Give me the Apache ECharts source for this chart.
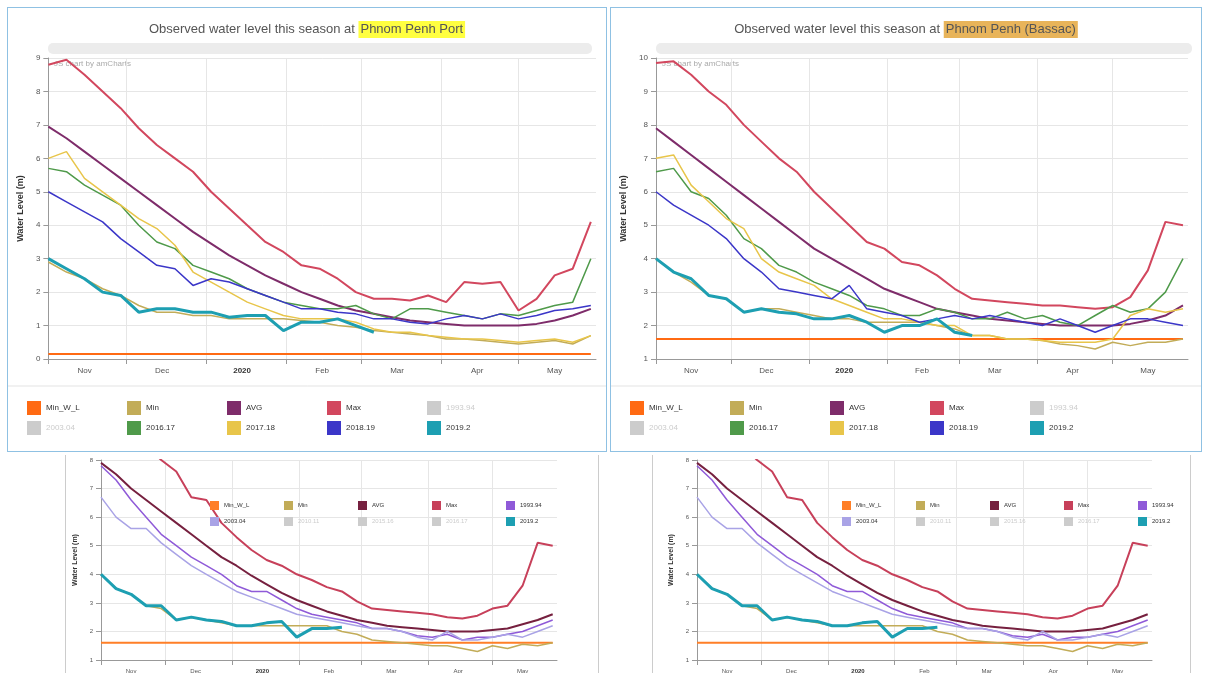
<!DOCTYPE html>
<html>
<head>
<meta charset="utf-8">
<script src="https://cdn.jsdelivr.net/npm/echarts@6/dist/echarts.min.js"></script>
<style>
  body { margin: 0; width: 1205px; height: 673px; overflow: hidden; background: #fff; font-family: "Liberation Sans", Arial, sans-serif; }
  .box { position: absolute; }
  #c1 { left: 7px; top: 7px; width: 598px; height: 443px; border: 1px solid #8fc1e3; }
  #c2 { left: 610px; top: 7px; width: 590px; height: 443px; border: 1px solid #8fc1e3; }
  #c3 { left: 0px; top: 440px; width: 600px; height: 250px; }
  #c4 { left: 597px; top: 440px; width: 600px; height: 250px; }
  .vl { position: absolute; top: 455px; height: 220px; width: 1px; background: #ccc; }
</style>
</head>
<body>
<div id="c1" class="box"></div>
<div id="c2" class="box"></div>
<div id="c3" class="box"></div>
<div id="c4" class="box"></div>
<div class="vl" style="left:65px"></div>
<div class="vl" style="left:598px"></div>
<div class="vl" style="left:652px"></div>
<div class="vl" style="left:1190px"></div>
<script>
// weekly sample dates
const weeks = ['2019-11-01','2019-11-08','2019-11-15','2019-11-22','2019-11-29','2019-12-06','2019-12-13','2019-12-20','2019-12-27',
  '2020-01-03','2020-01-10','2020-01-17','2020-01-24','2020-01-31','2020-02-07','2020-02-14','2020-02-21','2020-02-28',
  '2020-03-06','2020-03-13','2020-03-20','2020-03-27','2020-04-03','2020-04-10','2020-04-17','2020-04-24',
  '2020-05-01','2020-05-08','2020-05-15','2020-05-22','2020-05-29'];
const monthNames = ['2020','Feb','Mar','Apr','May','Jun','Jul','Aug','Sep','Oct','Nov','Dec'];

// Phnom Penh Port
const portMinWL = [0.15,0.15,0.15,0.15,0.15,0.15,0.15,0.15,0.15,0.15,0.15,0.15,0.15,0.15,0.15,0.15,0.15,0.15,0.15,0.15,0.15,0.15,0.15,0.15,0.15,0.15,0.15,0.15,0.15,0.15,0.15];
const portMin = [2.9,2.6,2.4,2.1,1.9,1.6,1.4,1.4,1.3,1.3,1.2,1.2,1.2,1.2,1.15,1.1,1.0,0.95,0.85,0.8,0.75,0.7,0.6,0.6,0.55,0.5,0.45,0.5,0.55,0.45,0.7];
const portAvg = [6.95,6.6,6.2,5.8,5.4,5.0,4.6,4.2,3.8,3.45,3.1,2.8,2.5,2.25,2.0,1.8,1.6,1.45,1.35,1.25,1.15,1.1,1.05,1.0,1.0,1.0,1.0,1.05,1.15,1.3,1.5];
const portMax = [8.8,8.95,8.5,8.0,7.5,6.9,6.4,6.0,5.6,5.0,4.5,4.0,3.5,3.2,2.8,2.7,2.4,2.0,1.8,1.8,1.75,1.9,1.7,2.3,2.25,2.3,1.45,1.8,2.5,2.7,4.1];
const port1617 = [5.7,5.6,5.2,4.9,4.6,4.0,3.5,3.3,2.8,2.6,2.4,2.1,1.9,1.7,1.6,1.5,1.5,1.6,1.35,1.2,1.5,1.5,1.4,1.3,1.2,1.35,1.3,1.45,1.6,1.7,3.0];
const port1718 = [6.0,6.2,5.4,5.0,4.6,4.2,3.9,3.4,2.6,2.3,2.0,1.7,1.5,1.3,1.2,1.2,1.2,1.1,0.9,0.8,0.8,0.7,0.65,0.6,0.6,0.55,0.5,0.55,0.6,0.5,0.7];
const port1819 = [5.0,4.7,4.4,4.1,3.6,3.2,2.8,2.7,2.2,2.4,2.3,2.1,1.9,1.7,1.5,1.5,1.4,1.35,1.2,1.2,1.1,1.05,1.2,1.3,1.2,1.35,1.2,1.3,1.45,1.5,1.6];
const port1920 = [3.0,2.7,2.4,2.0,1.9,1.4,1.5,1.5,1.4,1.4,1.25,1.3,1.3,0.85,1.1,1.1,1.2,1.0,0.8];

// Phnom Penh (Bassac)
const bassMinWL = [1.6,1.6,1.6,1.6,1.6,1.6,1.6,1.6,1.6,1.6,1.6,1.6,1.6,1.6,1.6,1.6,1.6,1.6,1.6,1.6,1.6,1.6,1.6,1.6,1.6,1.6,1.6,1.6,1.6,1.6,1.6];
const bassMin = [4.0,3.6,3.3,2.9,2.8,2.4,2.5,2.5,2.4,2.3,2.2,2.2,2.1,2.1,2.1,2.1,2.0,1.9,1.7,1.7,1.6,1.6,1.55,1.45,1.4,1.3,1.5,1.4,1.5,1.5,1.6];
const bassAvg = [7.9,7.5,7.1,6.7,6.3,5.9,5.5,5.1,4.7,4.3,4.0,3.7,3.4,3.1,2.9,2.7,2.5,2.4,2.3,2.2,2.15,2.1,2.05,2.0,2.0,2.0,2.0,2.05,2.15,2.3,2.6];
const bassMax = [9.85,9.9,9.5,9.0,8.6,8.0,7.5,7.0,6.6,6.0,5.5,5.0,4.5,4.3,3.9,3.8,3.5,3.1,2.8,2.75,2.7,2.65,2.6,2.6,2.55,2.5,2.55,2.85,3.65,5.1,5.0];
const bass1617 = [6.6,6.7,6.0,5.8,5.3,4.6,4.3,3.8,3.6,3.3,3.1,2.9,2.6,2.5,2.3,2.3,2.5,2.4,2.2,2.2,2.4,2.2,2.3,2.1,2.0,2.3,2.6,2.4,2.5,3.0,4.0];
const bass1718 = [7.0,7.1,6.2,5.7,5.2,4.9,4.0,3.6,3.4,3.2,2.8,2.6,2.4,2.2,2.2,2.1,2.0,2.0,1.7,1.7,1.6,1.6,1.55,1.5,1.5,1.5,1.6,2.3,2.5,2.4,2.5];
const bass1819 = [6.0,5.6,5.3,5.0,4.6,4.0,3.6,3.1,3.0,2.9,2.8,3.2,2.5,2.4,2.3,2.1,2.2,2.3,2.2,2.3,2.2,2.1,2.0,2.2,2.0,1.8,2.0,2.2,2.2,2.1,2.0];
const bass1920 = [4.0,3.6,3.4,2.9,2.8,2.4,2.5,2.4,2.35,2.2,2.2,2.3,2.1,1.8,2.0,2.0,2.2,1.8,1.7];

// lower pair (other years)
const lowMin = [4.0,3.5,3.3,2.9,2.8,2.4,2.5,2.4,2.3,2.2,2.2,2.2,2.2,2.2,2.2,2.2,2.0,1.9,1.7,1.65,1.6,1.55,1.5,1.5,1.4,1.3,1.5,1.4,1.55,1.5,1.6];
const lowAvg = [7.9,7.5,7.0,6.6,6.2,5.8,5.4,5.0,4.6,4.3,3.95,3.65,3.35,3.1,2.9,2.7,2.55,2.4,2.3,2.2,2.15,2.1,2.05,2.0,2.0,2.0,2.05,2.1,2.25,2.4,2.6];
const lowMax = [9.9,9.6,9.1,8.5,8.0,7.6,6.7,6.6,5.8,5.3,4.85,4.5,4.3,4.0,3.8,3.55,3.4,3.05,2.8,2.75,2.7,2.65,2.6,2.5,2.45,2.55,2.8,2.9,3.6,5.1,5.0];
const low9394 = [7.8,7.3,6.6,6.0,5.4,5.0,4.6,4.3,4.0,3.6,3.4,3.4,3.1,2.8,2.6,2.5,2.4,2.3,2.1,2.1,2.0,1.85,1.8,1.9,1.7,1.8,1.8,1.9,2.0,2.2,2.4];
const low0304 = [6.7,6.0,5.6,5.6,5.1,4.7,4.3,4.0,3.7,3.4,3.2,3.0,2.8,2.6,2.5,2.4,2.3,2.2,2.1,2.1,2.0,1.8,1.7,2.0,1.7,1.7,1.8,1.9,1.8,2.0,2.2];
const low1920 = [4.0,3.5,3.3,2.9,2.9,2.4,2.5,2.4,2.35,2.2,2.2,2.3,2.35,1.8,2.1,2.1,2.15];

const topRow1 = ['Min_W_L', 'Min', 'AVG', 'Max', '1993.94'];
const topRow2 = ['2003.04', '2016.17', '2017.18', '2018.19', '2019.2'];
const lowRow1 = ['Min_W_L', 'Min', 'AVG', 'Max', '1993.94'];
const lowRow2 = ['2003.04', '2010.11', '2015.16', '2016.17', '2019.2'];

// daily category axis Nov 1 .. May 31
const days = [];
for (let t = Date.UTC(2019, 10, 1); t <= Date.UTC(2020, 4, 31); t += 86400000) {
  days.push(new Date(t).toISOString().slice(0, 10));
}
const pairs = vals => vals.map((v, i) => [weeks[i], v]);
const dom = i => +days[i].slice(8, 10);

function line(name, vals, color, width) {
  return { name: name, type: 'line', data: vals ? pairs(vals) : [], showSymbol: false,
    lineStyle: { color: color, width: width || 1.5 }, itemStyle: { color: color } };
}

function xAxis(fs) {
  return {
    type: 'category', data: days, boundaryGap: false,
    axisLine: { lineStyle: { color: '#999' } },
    axisTick: { interval: i => dom(i) === 1, lineStyle: { color: '#999' } },
    splitLine: { show: true, interval: i => dom(i) === 1, lineStyle: { color: '#e6e6e6' } },
    axisLabel: {
      interval: i => dom(i) === 15, fontSize: fs, color: '#555',
      formatter: v => {
        const m = +v.slice(5, 7);
        if (m === 1) return '{b|2020}';
        return m >= 11 ? (m === 11 ? 'Nov' : 'Dec') : monthNames[m - 1];
      },
      rich: { b: { fontWeight: 'bold', fontSize: fs, color: '#333' } }
    }
  };
}

function yAxis(min, max, fs, gap) {
  return {
    type: 'value', min: min, max: max, interval: 1,
    name: 'Water Level (m)', nameLocation: 'middle', nameGap: gap, nameRotate: 90,
    nameTextStyle: { fontSize: fs + 1, fontWeight: 'bold', color: '#333' },
    axisLine: { show: true, lineStyle: { color: '#999' } },
    axisTick: { show: true, lineStyle: { color: '#999' } },
    axisLabel: { fontSize: fs, color: '#555' },
    splitLine: { lineStyle: { color: '#e6e6e6' } }
  };
}

// one legend component per item so columns line up like the original
function legends(rows, left, step, tops, fs, size, selected) {
  const out = [];
  rows.forEach((row, r) => row.forEach((name, k) => {
    out.push({ data: [name], left: left + k * step, top: tops[r], icon: 'rect', itemWidth: size, itemHeight: size,
      inactiveColor: '#ccc', selected: selected, textStyle: { fontSize: fs, color: '#333' } });
  }));
  return out;
}

function topChart(id, place, hl, yMin, yMax, d, gridLeft, gridRight) {
  const c = echarts.init(document.getElementById(id));
  const hidden = { '1993.94': false, '2003.04': false };
  c.setOption({
    animation: false,
    title: { text: 'Observed water level this season at {h|' + place + '}', left: 'center', top: 8,
      textStyle: { fontSize: 13, fontWeight: 'normal', color: '#555', rich: { h: { fontSize: 13, color: '#555', backgroundColor: hl, padding: [2, 2] } } } },
    graphic: [
      { type: 'rect', shape: { x: gridLeft, y: 35, width: 590 - gridLeft - gridRight + 4, height: 11, r: 5 }, style: { fill: '#ececec' } },
      { type: 'text', left: gridLeft + 6, top: 52, style: { text: 'JS chart by amCharts', fontSize: 8, fill: '#aaa' } },
      { type: 'line', shape: { x1: 0, y1: 378, x2: 600, y2: 378 }, style: { stroke: '#e3e3e3' } }
    ],
    grid: { left: gridLeft, right: gridRight, top: 50, bottom: 92 },
    xAxis: xAxis(8),
    yAxis: yAxis(yMin, yMax, 8, 22),
    legend: legends([topRow1, topRow2], 14, 100, [388, 408], 8, 14, hidden),
    series: [
      line('Min_W_L', d.minwl, '#ff6a13', 2),
      line('Min', d.min, '#c2ac58'),
      line('AVG', d.avg, '#7e2c6a', 2),
      line('Max', d.max, '#d2475e', 2),
      line('1993.94', null, '#9b59d6'),
      line('2003.04', null, '#6c8fd6'),
      line('2016.17', d.g, '#4f9a4a'),
      line('2017.18', d.y, '#e8c54a'),
      line('2018.19', d.b, '#3b36c8'),
      line('2019.2', d.t, '#1d9fb2', 3)
    ]
  });
}

topChart('c1', 'Phnom Penh Port', '#ffff40', 0, 9,
  { minwl: portMinWL, min: portMin, avg: portAvg, max: portMax, g: port1617, y: port1718, b: port1819, t: port1920 }, 40, 10);
topChart('c2', 'Phnom Penh (Bassac)', '#e8b45a', 1, 10,
  { minwl: bassMinWL, min: bassMin, avg: bassAvg, max: bassMax, g: bass1617, y: bass1718, b: bass1819, t: bass1920 }, 45, 13);

function lowChart(id, left, right, legLeft) {
  const c = echarts.init(document.getElementById(id));
  const hidden = { '2010.11': false, '2015.16': false, '2016.17': false };
  c.setOption({
    animation: false,
    grid: { left: left, right: right, top: 20, bottom: 30 },
    xAxis: xAxis(6),
    yAxis: yAxis(1, 8, 6, 16),
    legend: legends([lowRow1, lowRow2], legLeft, 74, [56, 72], 6, 9, hidden),
    series: [
      line('Min_W_L', bassMinWL, '#ff7f27', 2),
      line('Min', lowMin, '#c2ac58'),
      line('AVG', lowAvg, '#76203f', 2),
      line('Max', lowMax, '#c7405a', 2),
      line('1993.94', low9394, '#8f5ad8'),
      line('2003.04', low0304, '#a9a3e6'),
      line('2010.11', null, '#aaa'),
      line('2015.16', null, '#aaa'),
      line('2016.17', null, '#aaa'),
      line('2019.2', low1920, '#1d9fb2', 3)
    ]
  });
}
lowChart('c3', 101, 43, 205);
lowChart('c4', 100, 45, 240);
</script>
</body>
</html>
